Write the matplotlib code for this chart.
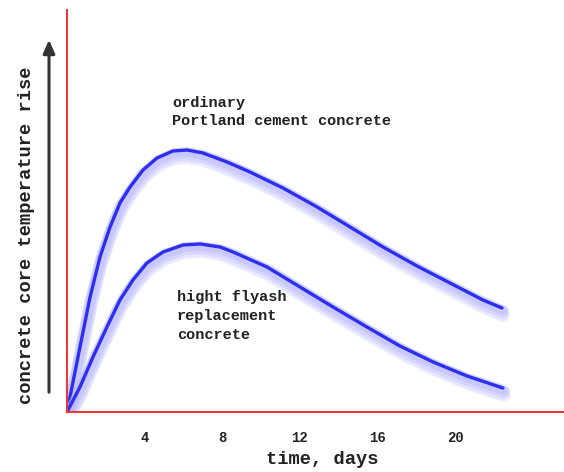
import matplotlib
matplotlib.use("Agg")
import matplotlib.pyplot as plt
import matplotlib.transforms as mtransforms

# Data (days, relative temperature rise)
opc_days = [0, 0.67, 1.19, 1.70, 2.22, 2.73, 3.25, 3.92, 4.64, 5.46, 6.19, 7.01, 8.25, 9.43,
            11.13, 12.89, 14.59, 16.29, 18.04, 19.74, 21.44, 22.42]
opc_rise = [0, 65, 115, 155, 185, 209, 225, 242, 254, 261, 262, 259, 250, 240,
            224, 205, 185, 165, 146, 129, 112, 104]
fly_days = [0, 0.67, 1.34, 2.06, 2.73, 3.40, 4.12, 4.95, 5.98, 6.86, 7.89, 8.56, 10.31,
            12.01, 13.71, 15.46, 17.16, 18.87, 20.62, 22.47]
fly_rise = [0, 25, 55, 85, 112, 132, 149, 160, 167, 168, 165, 160, 145,
            125, 105, 85, 66, 50, 36, 24]
tick_days = [4, 8, 12, 16, 20]
tick_labels = ["4", "8", "12", "16", "20"]

FONT = "Liberation Mono"
TXT = "#222222"

fig = plt.figure(figsize=(5.64, 4.72), dpi=100)
ax = fig.add_axes([67/564, 60/472, (564-67)/564, (412-10)/472])
ax.set_xlim(0, (564-67)/19.4)
ax.set_ylim(0, 402)

line_color = "#2e2ef0"
glow_color = "#b4b4ff"
for xs, ys in [(opc_days, opc_rise), (fly_days, fly_rise)]:
    for dy, lw, a in [(-8, 9, 0.15), (-6, 10, 0.2), (-4, 9, 0.3), (-2, 7, 0.4)]:
        tr = mtransforms.offset_copy(ax.transData, fig=fig, x=1, y=dy, units="dots")
        ax.plot(xs, ys, color=glow_color, lw=lw, alpha=a, transform=tr,
                solid_capstyle="round", solid_joinstyle="round")
    ax.plot(xs, ys, color=line_color, lw=2.4, solid_capstyle="round",
            solid_joinstyle="round")

for s in ["top", "right"]:
    ax.spines[s].set_visible(False)
for s in ["left", "bottom"]:
    ax.spines[s].set_color("#e83a3a")
    ax.spines[s].set_linewidth(1.5)

ax.set_xticks(tick_days)
ax.set_xticklabels(tick_labels, fontfamily=FONT, fontweight="bold", fontsize=10,
                   color=TXT)
ax.tick_params(axis="x", length=0, pad=14)
ax.set_yticks([])

fig.text(322/564, 1 - 460/472, "time, days", ha="center", va="center",
         fontfamily=FONT, fontweight="bold", fontsize=13.5, color=TXT)
fig.text(27/564, 1 - 235/472, "concrete core temperature rise", ha="center",
         va="center", rotation=90, fontfamily=FONT, fontweight="bold", fontsize=13.5,
         color=TXT)

fig.add_artist(matplotlib.patches.FancyArrowPatch(
    (49/564, 1 - 395/472), (49/564, 1 - 37/472), transform=fig.transFigure,
    arrowstyle="-|>,head_length=8,head_width=3.5", color="#333333", lw=2.2))

def px(x, y):
    return ax.transData.inverted().transform(fig.transFigure.transform((x/564, 1 - y/472)))

p = px(172, 112)
ax.text(p[0], p[1], "ordinary\nPortland cement concrete", fontfamily=FONT,
        fontweight="bold", fontsize=11, va="center", linespacing=1.45, color=TXT)
q = px(177, 316)
ax.text(q[0], q[1], "hight flyash\nreplacement\nconcrete", fontfamily=FONT,
        fontweight="bold", fontsize=11, va="center", linespacing=1.45, color=TXT)

fig.savefig("out.png", dpi=100)
